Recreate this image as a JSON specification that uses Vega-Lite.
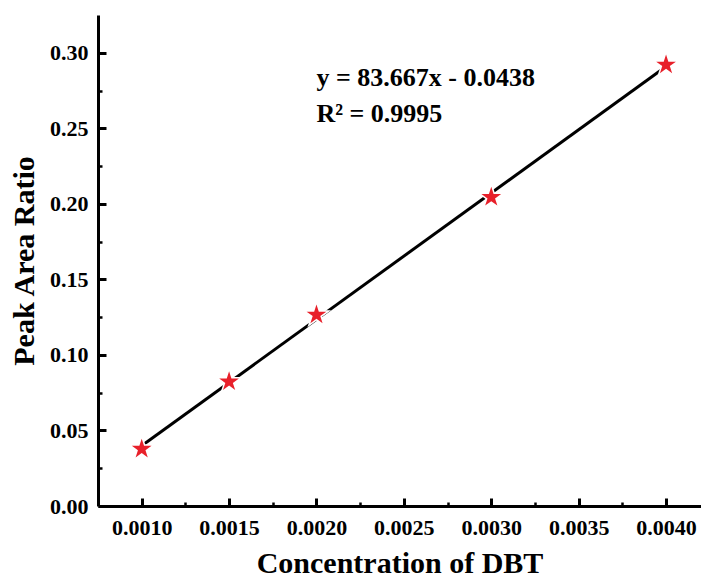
{
  "$schema": "https://vega.github.io/schema/vega-lite/v6.json",
  "width": 603,
  "height": 491,
  "autosize": {"type": "none"},
  "padding": {"left": 98, "top": 15, "right": 0, "bottom": 72},
  "background": "white",
  "config": {
    "view": {"stroke": null},
    "axis": {
      "grid": false,
      "domainColor": "black",
      "domainWidth": 3,
      "tickColor": "black",
      "labelColor": "black",
      "titleColor": "black",
      "labelFont": "Liberation Serif",
      "labelFontWeight": "bold",
      "labelFontSize": 22,
      "titleFont": "Liberation Serif",
      "titleFontWeight": "bold",
      "titleFontSize": 30
    }
  },
  "datasets": {
    "points": [
      {"conc": 0.001, "ratio": 0.0377},
      {"conc": 0.0015, "ratio": 0.0823},
      {"conc": 0.002, "ratio": 0.1265},
      {"conc": 0.003, "ratio": 0.2044},
      {"conc": 0.004, "ratio": 0.292}
    ],
    "fit": [
      {"conc": 0.001, "ratio": 0.0399},
      {"conc": 0.004, "ratio": 0.2909}
    ],
    "notes": [
      {"conc": 0.002, "ratio": 0.2777, "label": "y = 83.667x - 0.0438"},
      {"conc": 0.002, "ratio": 0.2545, "label": "R² = 0.9995"}
    ]
  },
  "layer": [
    {
      "data": {"name": "fit"},
      "mark": {"type": "line", "color": "black", "strokeWidth": 3},
      "encoding": {
        "x": {
          "field": "conc", "type": "quantitative",
          "scale": {"domain": [0.00075, 0.0042], "nice": false, "zero": false},
          "axis": {
            "title": "Concentration of DBT",
            "values": [0.001, 0.00125, 0.0015, 0.00175, 0.002, 0.00225, 0.0025, 0.00275, 0.003, 0.00325, 0.0035, 0.00375, 0.004],
            "labelExpr": "abs(datum.value*2000 - round(datum.value*2000)) < 1e-6 ? format(datum.value, '.4f') : ''",
            "tickSize": {"condition": {"test": "abs(datum.value*2000 - round(datum.value*2000)) < 1e-6", "value": -8}, "value": -4},
            "tickWidth": {"condition": {"test": "abs(datum.value*2000 - round(datum.value*2000)) < 1e-6", "value": 3}, "value": 2.5},
            "labelPadding": 19,
            "titlePadding": 10,
            "labelFlush": false
          }
        },
        "y": {
          "field": "ratio", "type": "quantitative",
          "scale": {"domain": [0, 0.325], "nice": false, "zero": false},
          "axis": {
            "title": "Peak Area Ratio",
            "values": [0, 0.025, 0.05, 0.075, 0.1, 0.125, 0.15, 0.175, 0.2, 0.225, 0.25, 0.275, 0.3],
            "labelExpr": "abs(datum.value*20 - round(datum.value*20)) < 1e-6 ? format(datum.value, '.2f') : ''",
            "tickSize": {"condition": {"test": "abs(datum.value*20 - round(datum.value*20)) < 1e-6", "value": -8}, "value": -4},
            "tickWidth": {"condition": {"test": "abs(datum.value*20 - round(datum.value*20)) < 1e-6", "value": 3}, "value": 2.5},
            "labelPadding": 18,
            "titlePadding": 10,
            "labelFlush": false
          }
        }
      }
    },
    {
      "data": {"name": "points"},
      "mark": {"type": "point", "filled": true, "opacity": 1, "color": "white", "size": 950,
        "shape": "M0,-1L0.2245,-0.309L0.951,-0.309L0.363,0.118L0.588,0.809L0,0.382L-0.588,0.809L-0.363,0.118L-0.951,-0.309L-0.2245,-0.309Z"},
      "encoding": {
        "x": {"field": "conc", "type": "quantitative"},
        "y": {"field": "ratio", "type": "quantitative"}
      }
    },
    {
      "data": {"name": "points"},
      "mark": {"type": "point", "filled": true, "opacity": 1, "color": "#e8202a", "size": 430,
        "shape": "M0,-1L0.2245,-0.309L0.951,-0.309L0.363,0.118L0.588,0.809L0,0.382L-0.588,0.809L-0.363,0.118L-0.951,-0.309L-0.2245,-0.309Z"},
      "encoding": {
        "x": {"field": "conc", "type": "quantitative"},
        "y": {"field": "ratio", "type": "quantitative"}
      }
    },
    {
      "data": {"name": "notes"},
      "mark": {"type": "text", "align": "left", "baseline": "alphabetic", "font": "Liberation Serif", "fontWeight": "bold", "fontSize": 26, "color": "black"},
      "encoding": {
        "x": {"field": "conc", "type": "quantitative"},
        "y": {"field": "ratio", "type": "quantitative"},
        "text": {"field": "label"}
      }
    },
    {
      "mark": {"type": "rule", "color": "black", "strokeWidth": 3},
      "encoding": {"y": {"datum": 0.325, "type": "quantitative"}}
    }
  ]
}
